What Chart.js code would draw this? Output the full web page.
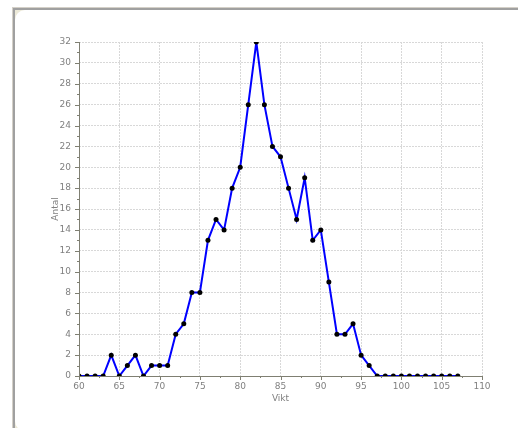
<!DOCTYPE html>
<html>
<head>
<meta charset="utf-8">
<script src="https://cdn.jsdelivr.net/npm/chart.js@4"></script>
<style>
  html, body { margin: 0; padding: 0; background: #ffffff; }
  #wrap { position: absolute; left: 0; top: 0; width: 518px; height: 428px; }
</style>
</head>
<body>
<div id="wrap"><canvas id="chart" width="518" height="428"></canvas></div>
<script>
// weights (Vikt) and counts (Antal)
const vikt = [60, 61, 62, 63, 64, 65, 66, 67, 68, 69, 70, 71, 72, 73, 74, 75, 76, 77, 78, 79,
  80, 81, 82, 83, 84, 85, 86, 87, 88, 89, 90, 91, 92, 93, 94, 95, 96, 97, 98, 99,
  100, 101, 102, 103, 104, 105, 106, 107];
const antal = [0, 0, 0, 0, 2, 0, 1, 2, 0, 1, 1, 1, 4, 5, 8, 8, 13, 15, 14, 18,
  20, 26, 32, 26, 22, 21, 18, 15, 19, 13, 14, 9, 4, 4, 5, 2, 1, 0, 0, 0,
  0, 0, 0, 0, 0, 0, 0, 0];
const xTicks = [60, 65, 70, 75, 80, 85, 90, 95, 100, 105, 110];
const yTicks = [0, 2, 4, 6, 8, 10, 12, 14, 16, 18, 20, 22, 24, 26, 28, 30, 32];

const points = vikt.map((v, i) => ({ x: v, y: antal[i] }));
const labelFont = { family: 'Tahoma, "DejaVu Sans", sans-serif', size: 9 };

// groupbox frame behind everything, axes + titles on top
const framePlugin = {
  id: 'frame',
  beforeDraw(chart) {
    const c = chart.ctx;
    c.save();
    c.fillStyle = '#ffffff';
    c.fillRect(0, 0, 518, 428);
    c.fillStyle = '#d4d0c8';
    c.fillRect(12, 7, 520, 430);
    c.fillStyle = '#a0a0a0';
    c.fillRect(13, 8, 520, 430);
    c.fillStyle = '#ece9d8';
    c.fillRect(15, 10, 520, 430);
    c.fillStyle = '#ffffff';
    c.beginPath();
    c.roundRect(15, 10, 520, 421, 10);
    c.fill();
    c.restore();
  },
  afterDraw(chart) {
    const c = chart.ctx;
    const xs = chart.scales.x, ys = chart.scales.y;
    const left = chart.chartArea.left, bottom = chart.chartArea.bottom;
    c.save();
    c.strokeStyle = '#7f7f72';
    c.lineWidth = 1;
    c.beginPath();
    c.moveTo(left + 0.5, ys.getPixelForValue(32));
    c.lineTo(left + 0.5, bottom + 0.5);
    c.lineTo(xs.getPixelForValue(110), bottom + 0.5);
    for (let v = 0; v <= 32; v++) {
      const y = Math.round(ys.getPixelForValue(v)) + 0.5;
      c.moveTo(left, y);
      c.lineTo(left - (v % 2 === 0 ? 4 : 2), y);
    }
    for (let v = 60; v <= 110; v += 2.5) {
      const x = Math.round(xs.getPixelForValue(v)) + 0.5;
      c.moveTo(x, bottom);
      c.lineTo(x, bottom + (v % 5 === 0 ? 4 : 2));
    }
    c.stroke();

    // axis titles
    c.fillStyle = '#808080';
    c.font = '9px Tahoma, "DejaVu Sans", sans-serif';
    c.textAlign = 'center';
    c.textBaseline = 'middle';
    c.fillText('Vikt', (xs.left + xs.right) / 2, bottom + 23);
    c.translate(left - 23, (ys.top + ys.bottom) / 2);
    c.rotate(-Math.PI / 2);
    c.fillText('Antal', 0, 0);
    c.restore();
  }
};

new Chart(document.getElementById('chart'), {
  type: 'scatter',
  data: {
    datasets: [{
      data: points,
      showLine: true,
      borderColor: '#0000ff',
      borderWidth: 2,
      pointBackgroundColor: '#000000',
      pointBorderColor: '#000000',
      pointRadius: 2.5,
      pointBorderWidth: 0,
      tension: 0
    }]
  },
  options: {
    responsive: false,
    animation: false,
    plugins: { legend: { display: false }, tooltip: { enabled: false } },
    layout: { padding: { left: 0, right: 36, top: 42, bottom: 0 } },
    scales: {
      x: {
        type: 'linear', min: 60, max: 110,
        afterBuildTicks: s => { s.ticks = xTicks.map(v => ({ value: v })); },
        afterFit: s => { s.height = 52; },
        ticks: { color: '#808080', font: labelFont, padding: 5, maxRotation: 0 },
        grid: { color: '#d8d8d8', drawTicks: false, lineWidth: 1 },
        border: { display: false, dash: [2, 1] }
      },
      y: {
        type: 'linear', min: 0, max: 32,
        afterBuildTicks: s => { s.ticks = yTicks.map(v => ({ value: v })); },
        afterFit: s => { s.width = 79; },
        ticks: { color: '#808080', font: labelFont, padding: 8 },
        grid: { color: '#d8d8d8', drawTicks: false, lineWidth: 1 },
        border: { display: false, dash: [2, 1] }
      }
    }
  },
  plugins: [framePlugin]
});
</script>
</body>
</html>
